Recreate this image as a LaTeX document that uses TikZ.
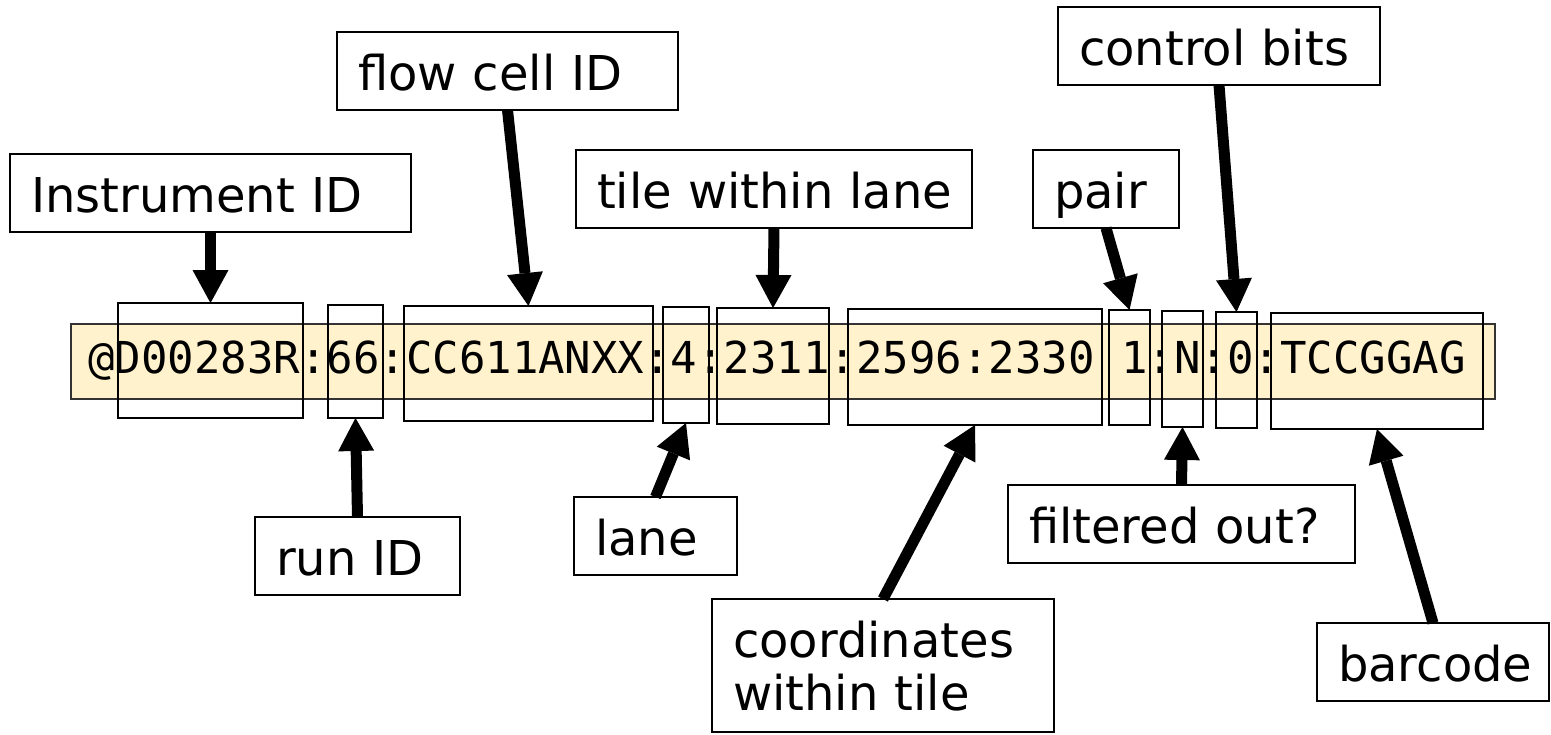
\documentclass[tikz,border=0pt]{standalone}
\usepackage{fontspec}
\setmainfont{DejaVu Sans}
\newfontfamily\seqfont{DejaVu Sans Mono}
\usetikzlibrary{arrows.meta}
\definecolor{bandfill}{HTML}{FFF2CC}
\begin{document}
\begin{tikzpicture}[x=1pt,y=-1pt,
 lbl/.style={draw=black, line width=1.6pt, align=left, inner xsep=21pt, inner ysep=20pt,
   text height=38pt, text depth=0pt, anchor=north west, outer sep=0pt,
   font=\fontsize{48}{53}\selectfont},
 seg/.style={draw=black, line width=2pt, anchor=north west, inner sep=0pt, outer sep=0pt},
 band/.style={draw=black!80, line width=1.4pt, fill=bandfill, anchor=north west, inner sep=0pt, outer sep=0pt},
 arr/.style={line width=11pt, -{Triangle[length=33pt,width=36pt,line width=0pt]}}
]
\useasboundingbox (0,0) rectangle (1551,734);

% the read header band
\node[band, minimum width=1424pt, minimum height=75pt] (band) at (71,324) {};
\node[anchor=base west, inner sep=0pt, font=\seqfont\fontsize{44}{50}\selectfont] (str) at (88,373)
  {@D00283R:66:CC611ANXX:4:2311:2596:2330 1:N:0:TCCGGAG};

% segment boxes
\node[seg, minimum width=185pt, minimum height=115pt] (s1) at (118,303) {};
\node[seg, minimum width=55pt,  minimum height=113pt] (s2) at (328,305) {};
\node[seg, minimum width=249pt, minimum height=115pt] (s3) at (404,306) {};
\node[seg, minimum width=46pt,  minimum height=116pt] (s4) at (663,307) {};
\node[seg, minimum width=112pt, minimum height=116pt] (s5) at (717,308) {};
\node[seg, minimum width=254pt, minimum height=116pt] (s6) at (848,309) {};
\node[seg, minimum width=41pt,  minimum height=115pt] (s7) at (1109,310) {};
\node[seg, minimum width=41pt,  minimum height=116pt] (s8) at (1162,311) {};
\node[seg, minimum width=41pt,  minimum height=116pt] (s9) at (1216,312) {};
\node[seg, minimum width=212pt, minimum height=116pt] (s10) at (1271,313) {};

% labels
\node[lbl, text width=359pt] (inst) at (10,154) {Instrument~ID};
\node[lbl, text width=299pt] (flow) at (337,32) {flow~cell~ID};
\node[lbl, text width=354pt] (tile) at (576,150) {tile~within~lane};
\node[lbl, text width=104pt] (pair) at (1033,150) {pair};
\node[lbl, text width=280pt] (ctrl) at (1058,7) {control~bits};
\node[lbl, text width=163pt] (run) at (255,517) {run~ID};
\node[lbl, text width=121pt] (lane) at (574,497) {lane};
\node[lbl, text width=300pt, text depth=55pt] (coord) at (712,599) {coordinates\\within~tile};
\node[lbl, text width=305pt] (filt) at (1008,485) {filtered~out?};
\node[lbl, text width=190pt] (barc) at (1317,623) {barcode};

% arrows
\draw[arr] (inst.south) -- (s1.north);
\draw[arr] (flow.south) -- (s3.north);
\draw[arr] (tile.south) -- (s5.north);
\draw[arr] (pair.south) -- (s7.north);
\draw[arr] (ctrl.south) -- (s9.north);
\draw[arr] (run.north) -- (s2.south);
\draw[arr] (lane.north) -- (s4.south);
\draw[arr] (coord.north) -- (s6.south);
\draw[arr] (filt.north) -- (s8.south);
\draw[arr] (barc.north) -- (s10.south);
\end{tikzpicture}
\end{document}
